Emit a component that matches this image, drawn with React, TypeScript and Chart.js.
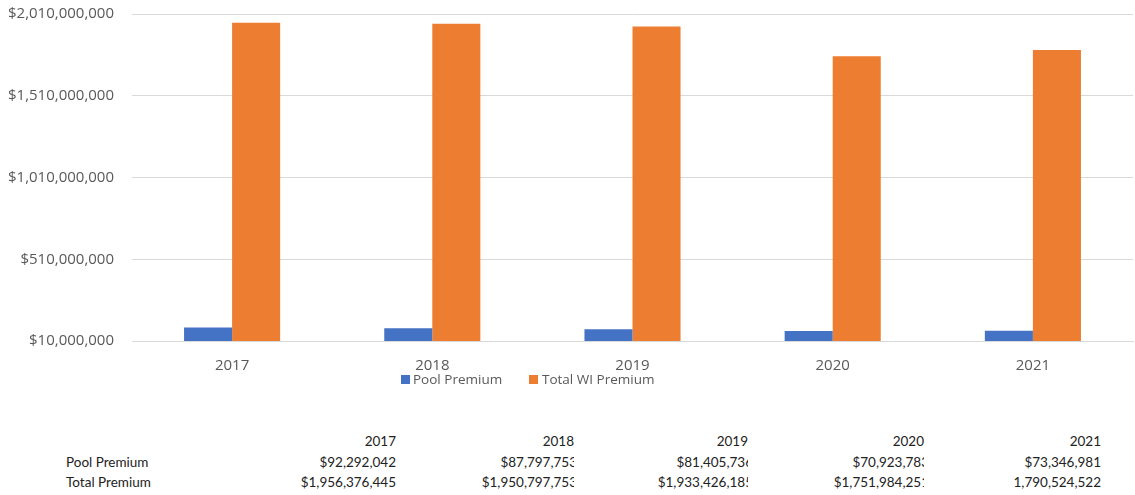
import React, { useEffect, useRef } from "react";
import { Chart, registerables } from "chart.js";

Chart.register(...registerables);

const years = ["2017", "2018", "2019", "2020", "2021"];
const poolPremium = [92292042, 87797753, 81405736, 70923783, 73346981];
const totalPremium = [1956376445, 1950797753, 1933426185, 1751984251, 1790524522];
const totalPrefix = ["$", "$", "$", "$", ""];
const seriesNames = ["Pool Premium", "Total WI Premium"];
const rowNames = ["Pool Premium", "Total Premium"];
const colors = ["#4472C4", "#ED7D31"];
const yMin = 10000000;
const yMax = 2010000000;
const yStep = 500000000;

const fmt = (n: number) => n.toLocaleString("en-US");

// right edges of table columns and how many px the value text overflows (clipped)
const colRight = [396, 574, 748, 924, 1101];
const colOverflow = [0, 3, 5, 5, 0];

export default function App() {
  const ref = useRef<HTMLCanvasElement | null>(null);
  useEffect(() => {
    if (!ref.current) return;
    const chart = new Chart(ref.current, {
      type: "bar",
      data: {
        labels: years,
        datasets: [
          { label: seriesNames[0], data: poolPremium, backgroundColor: colors[0], barPercentage: 1, categoryPercentage: 0.48 },
          { label: seriesNames[1], data: totalPremium, backgroundColor: colors[1], barPercentage: 1, categoryPercentage: 0.48 },
        ],
      },
      options: {
        animation: false,
        responsive: true,
        maintainAspectRatio: false,
        layout: { padding: { top: 14, right: 2, left: 0, bottom: 0 } },
        plugins: { legend: { display: false }, tooltip: { enabled: false } },
        scales: {
          x: {
            grid: { display: false, drawTicks: false },
            border: { display: true, color: "#d9d9d9", width: 1 },
            ticks: { color: "#595959", font: { family: "Open Sans", size: 15 }, padding: 16 },
          },
          y: {
            min: yMin,
            max: yMax,
            afterFit: (s: any) => { s.width = 132; s.paddingTop = 0; s.paddingBottom = 0; },
            grid: { color: "#d9d9d9", drawTicks: false, lineWidth: 1 },
            border: { display: false },
            ticks: {
              stepSize: yStep,
              color: "#595959",
              font: { family: "Open Sans", size: 15 },
              padding: 18,
              callback: (v: any) => "$" + fmt(Number(v)),
            },
          },
        },
      },
    });
    return () => chart.destroy();
  }, []);

  const tableFont: React.CSSProperties = { fontFamily: "Lato", fontSize: 13.5, color: "#222", lineHeight: "20px" };
  const rowsY = [431, 452, 472];

  return (
    <div style={{ position: "absolute", left: 0, top: 0, width: 1135, height: 495, background: "#fff", overflow: "hidden" }}>
      <div style={{ position: "absolute", left: 0, top: 0, width: 1135, height: 391 }}>
        <canvas ref={ref} />
      </div>
      {/* legend */}
      <div style={{ position: "absolute", top: 370, left: 0, width: 1135, height: 20, fontFamily: "Open Sans", fontSize: 13.5, color: "#595959" }}>
        <div style={{ position: "absolute", left: 401, top: 5, width: 9, height: 9, background: colors[0] }} />
        <div style={{ position: "absolute", left: 413, top: 0, lineHeight: "19px", whiteSpace: "nowrap" }}>{seriesNames[0]}</div>
        <div style={{ position: "absolute", left: 529, top: 5, width: 9, height: 9, background: colors[1] }} />
        <div style={{ position: "absolute", left: 542, top: 0, lineHeight: "19px", whiteSpace: "nowrap" }}>{seriesNames[1]}</div>
      </div>
      {/* data table */}
      <div style={{ position: "absolute", left: 66, top: rowsY[1], ...tableFont, whiteSpace: "nowrap" }}>{rowNames[0]}</div>
      <div style={{ position: "absolute", left: 66, top: rowsY[2], ...tableFont, whiteSpace: "nowrap" }}>{rowNames[1]}</div>
      {years.map((y, i) => (
        <React.Fragment key={y}>
          <div style={{ position: "absolute", left: colRight[i] - 170, width: 170, top: rowsY[0], textAlign: "right", ...tableFont }}>{y}</div>
          <div style={{ position: "absolute", left: colRight[i] - 170, width: 170, top: rowsY[1], height: 20, overflow: "hidden", ...tableFont }}>
            <span style={{ position: "absolute", right: -colOverflow[i], top: 0, whiteSpace: "nowrap" }}>{"$" + fmt(poolPremium[i])}</span>
          </div>
          <div style={{ position: "absolute", left: colRight[i] - 170, width: 170, top: rowsY[2], height: 20, overflow: "hidden", ...tableFont }}>
            <span style={{ position: "absolute", right: -colOverflow[i], top: 0, whiteSpace: "nowrap" }}>{totalPrefix[i] + fmt(totalPremium[i])}</span>
          </div>
        </React.Fragment>
      ))}
    </div>
  );
}
